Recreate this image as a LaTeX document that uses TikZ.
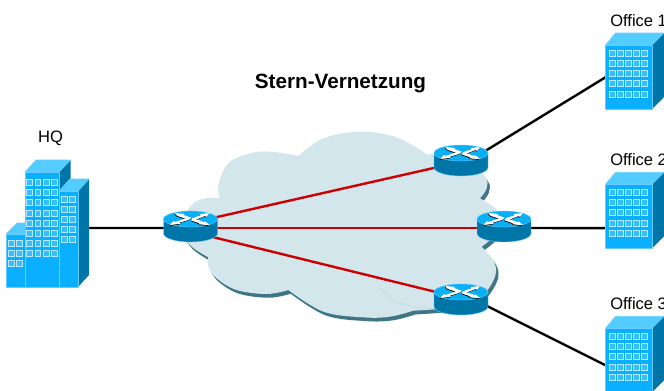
\documentclass[tikz,border=0pt]{standalone}
\usepackage{fontspec}
\setmainfont{Liberation Sans}
\definecolor{cloudfill}{HTML}{D2E6EC}
\definecolor{cloudshade}{HTML}{3F7585}
\definecolor{bfront}{HTML}{0AB0FF}
\definecolor{bedge}{HTML}{66CCFF}
\definecolor{broof}{HTML}{55CCFF}
\definecolor{bside}{HTML}{0076A8}
\definecolor{rtop}{HTML}{0AB0F5}
\definecolor{redlink}{HTML}{CC0000}
\newcommand{\cloudoutline}{
  plot[smooth,tension=0.6] coordinates {(120,235) (115,195) (145,130) (210,100) (270,95) (355,108)}
  -- plot[smooth,tension=0.6] coordinates {(355,108) (430,55) (540,35) (650,52) (740,103)}
  -- plot[smooth,tension=0.6] coordinates {(740,103) (850,110) (915,170) (920,205) (900,235)}
  -- plot[smooth,tension=0.6] coordinates {(900,235) (950,270) (970,320) (905,380)}
  -- plot[smooth,tension=0.6] coordinates {(905,380) (942,425) (945,470) (905,530) (840,560) (700,572)}
  -- plot[smooth,tension=0.6] coordinates {(700,572) (630,590) (550,592) (430,575) (325,510)}
  -- plot[smooth,tension=0.6] coordinates {(325,510) (260,522) (170,510) (110,475) (85,440) (85,412)}
  -- plot[smooth,tension=0.6] coordinates {(85,412) (30,375) (0,320) (35,255) (75,235) (120,235)}
  -- cycle}
\tikzset{
  x=0.75pt,y=-0.75pt,
  lbl/.style={inner sep=0pt,font=\fontsize{12.4pt}{14pt}\selectfont,text=black},
  ttl/.style={inner sep=0pt,font=\fontsize{15.5pt}{18pt}\selectfont\bfseries,text=black},
  routerbox/.style={rectangle,inner sep=0pt,minimum width=40.5pt,minimum height=23.25pt},
  officebox/.style={rectangle,inner sep=0pt,minimum width=35pt,minimum height=48pt,anchor=north west},
  hqbox/.style={rectangle,inner sep=0pt,minimum width=62pt,minimum height=85pt},
  blink/.style={line width=1.8pt,draw=black},
  rlink/.style={line width=1.8pt,draw=redlink},
  front/.style={fill=bfront,draw=bedge,line width=0.5pt,line join=round},
  roof/.style={fill=broof,draw=bedge,line width=0.4pt,line join=round},
  side/.style={fill=bside,draw=none},
  win/.style={fill=bedge!50!bfront,draw=bedge!45!white,line width=0.6pt},
  routerpic/.pic={
    \path[fill=bside,draw=bedge,line width=0.3pt] (-27,-7.5) -- (-27,7) arc[start angle=180,end angle=0,x radius=27,y radius=8.5] -- (27,-7.5) -- cycle;
    \path[fill=rtop,draw=bedge,line width=0.3pt] (0,-7.5) ellipse[x radius=27,y radius=8];
    \foreach \dx/\dy/\col in {-0.5/0.7/black,0/0/white}{
      \begin{scope}[shift={(\dx,\dy)}]
        \filldraw[\col,line width=0.6pt,line join=round] (-2,-7.2) -- (-13,-11) -- (-15,-13) -- (-6.5,-12.2) -- (-8.5,-11.6) -- (0,-8.6) -- cycle;
        \filldraw[\col,line width=0.6pt,line join=round] (2,-7.8) -- (12,-11.4) -- (10,-12) -- (18,-13) -- (16,-10.2) -- (14,-10.8) -- (4,-6.8) -- cycle;
        \filldraw[\col,line width=0.6pt,line join=round] (-2,-7) -- (-13,-3.6) -- (-11,-3) -- (-20,-2) -- (-17,-4.8) -- (-15,-4.2) -- (-4,-8) -- cycle;
        \filldraw[\col,line width=0.6pt,line join=round] (1,-6.4) -- (11,-3) -- (9,-2.6) -- (18,-1.8) -- (14.5,-4.6) -- (13,-4.2) -- (3,-7.6) -- cycle;
      \end{scope}}
  },
  officepic/.pic={
    \path[side] (46.5,0) -- (58.5,-12) -- (58.5,52) -- (46.5,64) -- cycle;
    \path[roof] (0,0) -- (10,-12) -- (58.5,-12) -- (46.5,0) -- cycle;
    \path[front] (0,0) rectangle (46.5,64);
    \foreach \wx in {6.5,14.7,22.8,31.1,39.2}
      \foreach \wy in {8.3,18.3,28.3,38.8,49.3}
        \path[win] (\wx-2.9,\wy-3) rectangle (\wx+2.9,\wy+3);
  },
  hqpic/.pic={
    % left low block
    \path[roof] (6,234) -- (17,223) -- (30,223) -- (25,234) -- cycle;
    \path[front] (6,234) rectangle (25,287);
    \foreach \wx in {11,19.3} \foreach \wy in {243.3,253.3,263.3}
      \path[win] (\wx-2.9,\wy-3) rectangle (\wx+2.9,\wy+3);
    % tall block
    \path[side] (59,172) -- (70.5,160) -- (70.5,185) -- (59,197) -- cycle;
    \path[roof] (25,172) -- (36,160) -- (70.5,160) -- (59,172) -- cycle;
    \path[front] (25,172) rectangle (59,287);
    \foreach \wx in {29.7,37.8,46,54}
      \foreach \wy in {182.3,192.5,202.7,213,223.2,233.4,243.6,253.8}
        \path[win] (\wx-2.9,\wy-3) rectangle (\wx+2.9,\wy+3);
    % right block
    \path[side] (78,191) -- (89,179) -- (89,275) -- (78,287) -- cycle;
    \path[roof] (59,191) -- (70,179) -- (89,179) -- (78,191) -- cycle;
    \path[front] (59,191) rectangle (78,287);
    \foreach \wx in {64.3,72}
      \foreach \wy in {199.3,209.3,219.3,229.3,239.3}
        \path[win] (\wx-2.9,\wy-3) rectangle (\wx+2.9,\wy+3);
  }
}
\begin{document}
\begin{tikzpicture}
\useasboundingbox (0,0) rectangle (664,390);
\clip (0,0) rectangle (664,390);
% cloud
\begin{scope}[xshift=136.8pt,yshift=-92.8pt,x=0.25pt,y=-0.25pt]
  \fill[cloudshade] \cloudoutline;
\end{scope}
\begin{scope}[xshift=135pt,yshift=-90pt,x=0.25pt,y=-0.25pt]
  \fill[cloudfill] \cloudoutline;
  \draw[cloudfill!88!cloudshade,line width=0.5pt] plot[smooth] coordinates {(600,505) (640,540) (700,560) (765,566)};
\end{scope}
% anchors
\node[routerbox] (r0) at (190.5,226.5) {};
\node[routerbox] (r1) at (461,160.5) {};
\node[routerbox] (r2) at (504,226.5) {};
\node[routerbox] (r3) at (461,299.5) {};
\node[hqbox] (hq) at (47,228) {};
\node[officebox] (o1) at (605.5,45) {};
\node[officebox] (o2) at (605.5,184.3) {};
\node[officebox] (o3) at (605.5,328.3) {};
% links
\draw[blink] (hq.center) -- ([yshift=-1.1pt]r0.center);
\draw[blink] ([yshift=-4pt]r1.center) -- (o1.west);
\draw[blink] ([yshift=-1.1pt]r2.center) -- ([yshift=-8.7pt]o2.center);
\draw[blink] ([yshift=4.9pt]r3.center) -- ([yshift=-3.5pt]o3.west);
\draw[rlink] ([yshift=2.6pt]r0.center) -- ([yshift=-1pt]r1.center);
\draw[rlink] ([yshift=-1.1pt]r0.center) -- ([yshift=-1.1pt]r2.center);
\draw[rlink] ([yshift=-3.8pt]r0.center) -- ([yshift=1pt]r3.center);
% icons
\pic at (0,0) {hqpic};
\pic at (605.5,45) {officepic};
\pic at (605.5,184.3) {officepic};
\pic at (605.5,328.3) {officepic};
\pic at (r0.center) {routerpic};
\pic at (r1.center) {routerpic};
\pic at (r2.center) {routerpic};
\pic at (r3.center) {routerpic};
% labels
\node[ttl,anchor=center] (title) at (340.5,83) {Stern-Vernetzung};
\node[lbl,anchor=center] (lhq) at (50.5,138.5) {HQ};
\node[lbl,anchor=west] (l1) at (610,20.5) {Office 1};
\node[lbl,anchor=west] (l2) at (610,159.5) {Office 2};
\node[lbl,anchor=west] (l3) at (610,303.5) {Office 3};
\end{tikzpicture}
\end{document}
